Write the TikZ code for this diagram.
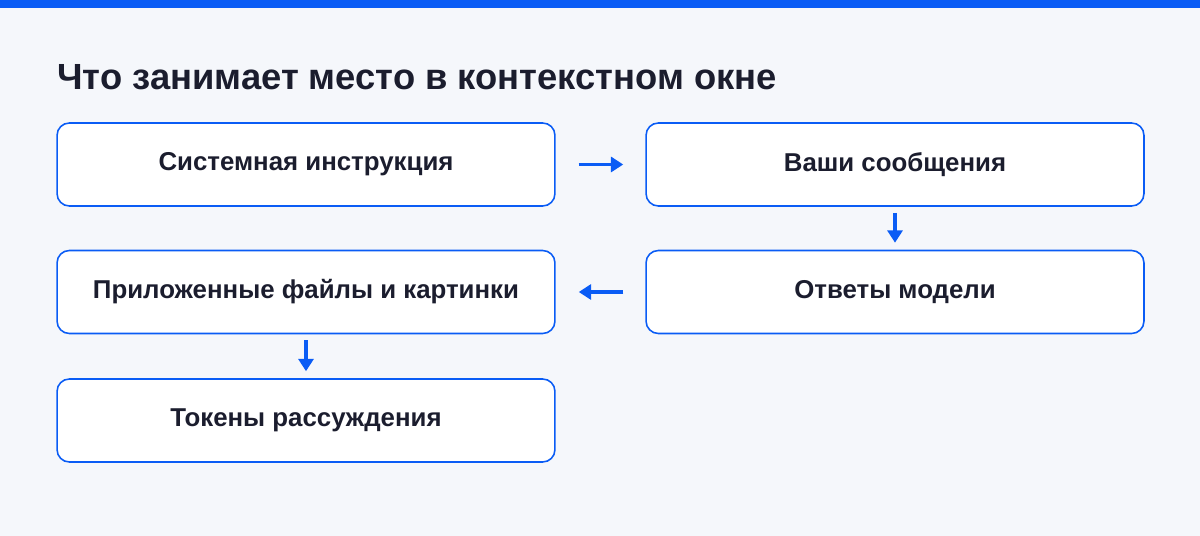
\documentclass[tikz,border=0pt]{standalone}
\usepackage{fontspec}
\setmainfont{Liberation Sans}
\usepackage{xcolor}
\usetikzlibrary{arrows.meta}
\definecolor{bg}{HTML}{F5F7FB}
\definecolor{accent}{HTML}{0A5CF5}
\definecolor{ink}{HTML}{1B1D2E}
\tikzset{
  stage/.style={draw=accent, line width=0.9pt, fill=white, rounded corners=7pt,
    minimum width=9.96cm, minimum height=1.66cm, text=ink, font=\bfseries\fontsize{14.7}{17}\selectfont},
  flow/.style={draw=accent, line width=1.8pt, -{Triangle[length=7pt,width=8.5pt]}},
}
\begin{document}
\begin{tikzpicture}[x=0.02cm,y=-0.02cm]
  \fill[bg] (0,0) rectangle (1200,536);
  \fill[accent] (0,0) rectangle (1200,8);
  \node[anchor=base west, text=ink, font=\bfseries\fontsize{20.7}{24}\selectfont] (title) at (51,90) {Что занимает место в контекстном окне};
  \node[stage] (sys) at (306,164.5) {Системная инструкция};
  \node[stage] (msg) at (895,164.5) {Ваши сообщения};
  \node[stage] (ans) at (895,292) {Ответы модели};
  \node[stage] (att) at (306,292) {Приложенные файлы и картинки};
  \node[stage] (tok) at (306,420.5) {Токены рассуждения};
  \draw[flow, shorten <=0.46cm, shorten >=0.44cm] (sys) -- (msg);
  \draw[flow, shorten <=0.12cm, shorten >=0.14cm] (msg) -- (ans);
  \draw[flow, shorten <=0.44cm, shorten >=0.46cm] (ans) -- (att);
  \draw[flow, shorten <=0.12cm, shorten >=0.14cm] (att) -- (tok);
\end{tikzpicture}
\end{document}
